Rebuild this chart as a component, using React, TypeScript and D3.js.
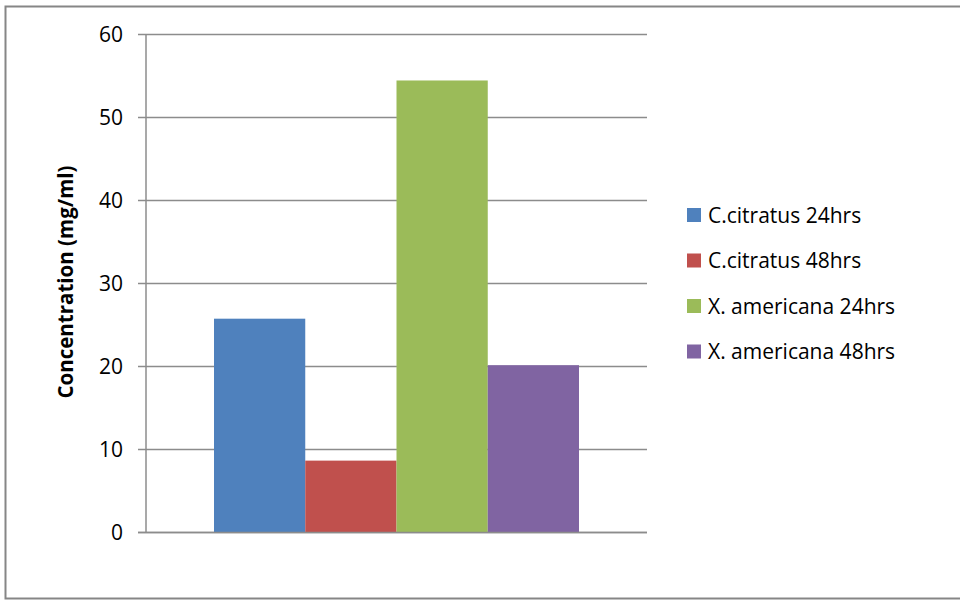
import React, { useEffect, useRef } from 'react';
import * as d3 from 'd3';

const seriesLabels = ['C.citratus 24hrs', 'C.citratus 48hrs', 'X. americana 24hrs', 'X. americana 48hrs'];
const seriesValues = [25.7, 8.6, 54.4, 20.1];
const seriesColors = ['#4f81bd', '#c0504d', '#9bbb59', '#8064a2'];
const yTicks = [0, 10, 20, 30, 40, 50, 60];
const yTitle = 'Concentration (mg/ml)';

const width = 960;
const height = 604;
const font = '"Open Sans", "Noto Sans", sans-serif';

const App: React.FC = () => {
    const svgRef = useRef<SVGSVGElement>(null);

    useEffect(() => {
        if (!svgRef.current) return;
        const svg = d3.select(svgRef.current);
        svg.selectAll('*').remove();

        const plot = { left: 146, right: 647, top: 34, bottom: 532 };

        // outer chart frame
        svg.append('rect')
            .attr('x', 5.5).attr('y', 6.5)
            .attr('width', 960).attr('height', 592)
            .attr('fill', '#fff')
            .attr('stroke', '#868686')
            .attr('stroke-width', 2);

        const yScale = d3.scaleLinear().domain([0, 60]).range([plot.bottom, plot.top]);
        const xScale = d3.scaleBand<string>()
            .domain(seriesLabels)
            .range([214, 579])
            .padding(0);

        // gridlines + ticks
        const g = svg.append('g');
        yTicks.forEach((t) => {
            const y = Math.round(yScale(t)) + 0.5;
            g.append('line')
                .attr('x1', 138).attr('x2', plot.right)
                .attr('y1', y).attr('y2', y)
                .attr('stroke', '#8c8c8c').attr('stroke-width', 1.5);
            g.append('text')
                .attr('x', 123).attr('y', y)
                .attr('dy', '0.36em')
                .attr('text-anchor', 'end')
                .attr('font-family', font)
                .attr('font-size', 21)
                .attr('fill', '#000')
                .text(t);
        });

        g.append('line')
            .attr('x1', plot.left).attr('x2', plot.left)
            .attr('y1', plot.top).attr('y2', plot.bottom)
            .attr('stroke', '#8c8c8c').attr('stroke-width', 1.5);

        // bars
        svg.append('g').selectAll('rect')
            .data(seriesValues)
            .join('rect')
            .attr('x', (d, i) => xScale(seriesLabels[i]) ?? 0)
            .attr('y', (d) => yScale(d))
            .attr('width', xScale.bandwidth())
            .attr('height', (d) => yScale(0) - yScale(d))
            .attr('fill', (d, i) => seriesColors[i]);

        // axis baseline on top of bars
        svg.append('line')
            .attr('x1', 138).attr('x2', plot.right)
            .attr('y1', Math.round(yScale(0)) + 0.5).attr('y2', Math.round(yScale(0)) + 0.5)
            .attr('stroke', '#8c8c8c').attr('stroke-width', 1.5);

        // y title
        svg.append('text')
            .attr('transform', `translate(73, 282) rotate(-90)`)
            .attr('text-anchor', 'middle')
            .attr('font-family', font)
            .attr('font-weight', 'bold')
            .attr('font-size', 20.5)
            .attr('fill', '#000')
            .text(yTitle);

        // legend
        const legend = svg.append('g').attr('transform', 'translate(687, 215)');
        seriesLabels.forEach((label, i) => {
            const row = legend.append('g').attr('transform', `translate(0, ${i * 45.5})`);
            row.append('rect')
                .attr('x', 0).attr('y', -7)
                .attr('width', 14).attr('height', 14)
                .attr('fill', seriesColors[i]);
            row.append('text')
                .attr('x', 21).attr('y', 0)
                .attr('dy', '0.36em')
                .attr('font-family', font)
                .attr('font-size', 21)
                .attr('fill', '#000')
                .text(label);
        });
    }, []);

    return (
        <svg ref={svgRef} width={width} height={height}
            style={{ position: 'absolute', left: 0, top: 0, display: 'block' }} />
    );
};

export default App;
